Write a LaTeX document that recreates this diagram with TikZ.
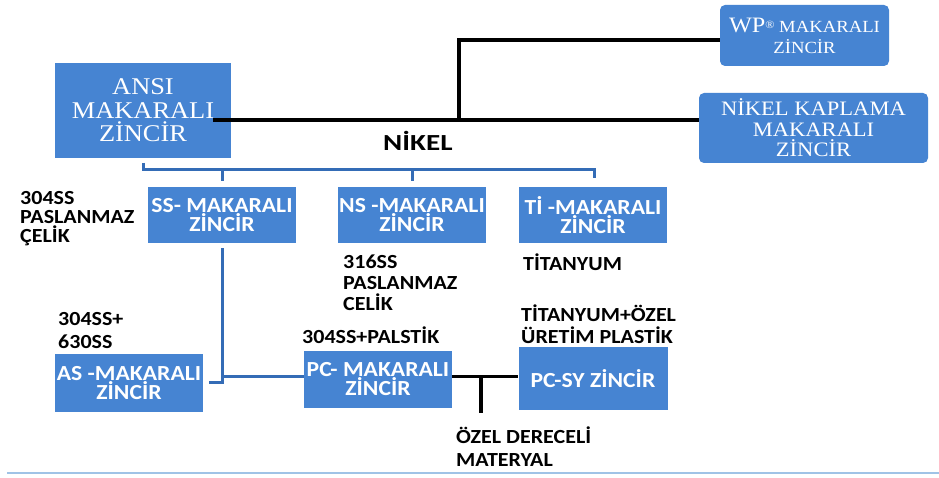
\documentclass[tikz,border=0pt]{standalone}
\usepackage{fontspec}
\setmainfont{Liberation Serif}[FakeStretch=1.1]
\newfontfamily\calfont{Carlito}[FakeStretch=1.1]
\definecolor{boxblue}{RGB}{70,132,210}
\definecolor{lineblue}{RGB}{52,108,182}
\definecolor{rulebl}{RGB}{160,195,230}
\begin{document}
\begin{tikzpicture}[x=1pt,y=-1pt,
  box/.style={fill=boxblue,text=white,align=center,inner sep=0pt},
  serifbox/.style={box,font=\fontsize{24}{23.5}\selectfont},
  sansbox/.style={box,font=\calfont\bfseries\fontsize{21.5}{19.5}\selectfont},
  lbl/.style={anchor=base west,inner sep=0pt,align=left,font=\calfont\bfseries\fontsize{20}{#1}\selectfont},
  lbl/.default=21,
  blk/.style={line width=3.2pt,black},
  bl/.style={line width=3pt,lineblue}]
\useasboundingbox (0,0) rectangle (939,478);
\fill[white] (0,0) rectangle (939,478);
% boxes
\node[serifbox,minimum width=176pt,minimum height=95pt] (ansi) at (143,110.5) {ANSI\\MAKARALI\\ZİNCİR};
\node[box,rounded corners=5pt,minimum width=169pt,minimum height=61pt,font=\fontsize{17}{21}\selectfont] (wp) at (804.5,35.5) {{\fontsize{22}{21}\selectfont WP}\raisebox{4pt}{\fontsize{11}{11}\selectfont ®} MAKARALI\\ZİNCİR};
\node[box,rounded corners=5pt,minimum width=229pt,minimum height=70pt,font=\fontsize{20.5}{20.5}\selectfont] (nkap) at (813.5,128) {NİKEL KAPLAMA\\MAKARALI\\ZİNCİR};
\node[sansbox,minimum width=148.5pt,minimum height=56.5pt] (ss) at (222,215) {SS- MAKARALI\\ZİNCİR};
\node[sansbox,minimum width=148.5pt,minimum height=56.5pt] (ns) at (412,215) {NS -MAKARALI\\ZİNCİR};
\node[sansbox,minimum width=148.5pt,minimum height=56.5pt] (ti) at (593,215) {Tİ -MAKARALI\\ZİNCİR};
\node[sansbox,minimum width=148pt,minimum height=58pt] (as) at (129,383) {AS -MAKARALI\\ZİNCİR};
\node[sansbox,minimum width=148pt,minimum height=57pt] (pc) at (378,379) {PC- MAKARALI\\ZİNCİR};
\node[sansbox,minimum width=149pt,minimum height=63pt] (pcsy) at (593,378.3) {PC-SY ZİNCİR};
% labels (base = baseline of last line)
\node[lbl=19] (l304) at (20,243) {304SS\\PASLANMAZ\\ÇELİK};
\node[lbl=21] (l316) at (343,310) {316SS\\PASLANMAZ\\CELİK};
\node[lbl] (ltit) at (523,270) {TİTANYUM};
\node[lbl=23] (l630) at (58,348) {304SS+\\630SS};
\node[lbl] (lpal) at (302,343) {304SS+PALSTİK};
\node[lbl=22] (ltoz) at (521,343) {TİTANYUM+ÖZEL\\ÜRETİM PLASTİK};
\node[lbl=23.5] (loz) at (456,466.5) {ÖZEL DERECELİ\\MATERYAL};
\node[lbl,font=\calfont\bfseries\fontsize{23}{23}\selectfont] (lnik) at (383,151) {\scalebox{1.15}[1]{NİKEL}};
% black connectors
\coordinate (a1) at ([xshift=-18pt,yshift=-9.5pt]ansi.east);
\coordinate (j1) at (459,120);
\draw[blk] (a1) -- (nkap.west |- a1);
\draw[blk] (j1) -- (459,40) -- (wp.west |- 459,40);
\coordinate (p1) at (pc.east |- 0,376.7);
\coordinate (j2) at (481,376.7);
\coordinate (j2e) at (481,413);
\draw[blk] (p1) -- (pcsy.west |- p1);
\draw[blk] (j2) -- (j2e);
% blue connectors
\coordinate (b0) at (143,163);
\draw[bl] (b0) -- (143,170) -- (594,170) -- (594,178);
\draw[bl] (222,170) -- (222,181.5);
\draw[bl] (412,170) -- (412,181.5);
\coordinate (s1) at ([yshift=-5pt]ss.south);
\draw[bl] (s1) -- (s1 |- 0,382) -- (209,382);
\draw[bl] (s1 |- 0,376.7) -- (pc.west |- 0,376.7);
% bottom rule
\draw[rulebl,line width=2pt] (7,473) -- (939,473);
\end{tikzpicture}
\end{document}
